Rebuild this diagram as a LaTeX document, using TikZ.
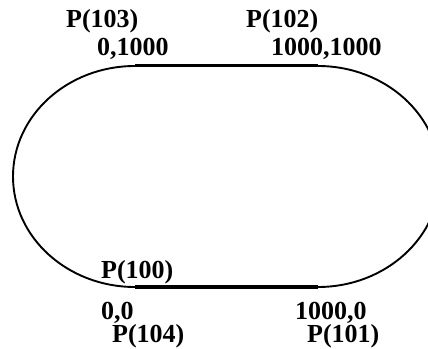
\documentclass[tikz,border=0pt]{standalone}
\usepackage{fontspec}
\setmainfont{Liberation Serif}
\usepackage{tikz}
\usetikzlibrary{positioning}

\tikzset{
  lbl/.style={font=\fontsize{26}{28}\selectfont\bfseries, inner sep=0pt, anchor=base west},
  straight/.style={line width=3pt},
  curve/.style={line width=1.9pt}
}

\begin{document}
\begin{tikzpicture}[x=1pt,y=1pt]
  \useasboundingbox (0,0) rectangle (428,348);
  \clip (0,0) rectangle (428,348);
  % ends of the two straights
  \coordinate (SW) at (135,61);
  \coordinate (SE) at (318,61);
  \coordinate (NE) at (318,282);
  \coordinate (NW) at (135,282);
  % straights
  \draw[straight] (SW) -- (SE);
  \draw[straight] (NW) -- (NE);
  % half-ellipse curves at both ends
  \draw[curve] (SE) arc[start angle=-90, end angle=90, x radius=122, y radius=110.5];
  \draw[curve] (NW) arc[start angle=90, end angle=270, x radius=122, y radius=110.5];
  % point labels
  \node[lbl] (p103) at (66,320) {P(103)};
  \node[lbl] (c103) at (97,292.5) {0,1000};
  \node[lbl] (p102) at (246,320) {P(102)};
  \node[lbl] (c102) at (271,292.5) {1000,1000};
  \node[lbl] (p100) at (101,70) {P(100)};
  \node[lbl] (c100) at (101,29) {0,0};
  \node[lbl] (c101) at (295,29) {1000,0};
  \node[lbl] (p104) at (112,6) {P(104)};
  \node[lbl] (p101) at (307,6) {P(101)};
\end{tikzpicture}
\end{document}
